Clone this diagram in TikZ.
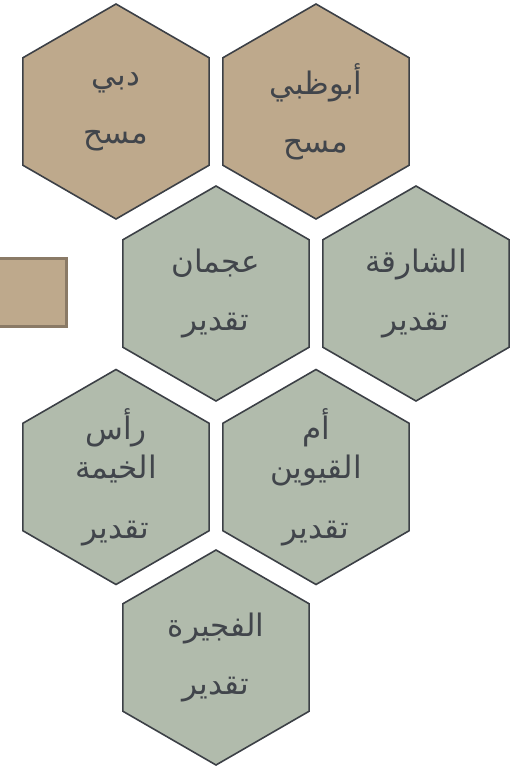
\documentclass[tikz,border=0pt]{standalone}
\usepackage{fontspec}
\usepackage{xcolor}
\usepackage{tikz}
\usetikzlibrary{shapes.geometric, positioning}
\TeXXeTstate=1
\newfontfamily\arabicfont[Script=Arabic]{DejaVu Sans}
\definecolor{hexedge}{HTML}{3C4046}
\definecolor{hextext}{HTML}{41454B}
\definecolor{sandfill}{HTML}{BEA98C}
\definecolor{sandedge}{HTML}{8A7A66}
\definecolor{sagefill}{HTML}{B1BBAC}
\newcommand{\ar}[1]{\beginR #1\endR}

\begin{document}
\begin{tikzpicture}[x=1pt, y=-1pt,
    hexcell/.style={regular polygon, regular polygon sides=6, shape border rotate=30,
        minimum size=215pt, inner sep=-40pt, draw=hexedge, line width=1.6pt,
        text=hextext, align=center,
        font=\arabicfont\fontsize{31}{39}\selectfont},
    survey/.style={hexcell, fill=sandfill},
    estimate/.style={hexcell, fill=sagefill}]
    \useasboundingbox (0,0) rectangle (526,766);

    % Mảnh chữ nhật bên trái
    \node[draw=sandedge, fill=sandfill, line width=2.5pt, minimum width=70pt,
        minimum height=68pt, inner sep=0pt] (swatch) at (31.5,292.5) {};

    % Hàng 1
    \node[survey] (dubai) at (116,111.5) {\ar{دبي}\\[19pt]\ar{مسح}};
    \node[survey] (abudhabi) at (316,111.5) {\ar{أبوظبي}\\[19pt]\ar{مسح}};

    % Hàng 2
    \node[estimate] (ajman) at (216,293.5) {\ar{عجمان}\\[19pt]\ar{تقدير}};
    \node[estimate] (sharjah) at (416,293.5) {\ar{الشارقة}\\[19pt]\ar{تقدير}};

    % Hàng 3
    \node[estimate] (rak) at (116,477) {\ar{رأس}\\\ar{الخيمة}\\[21pt]\ar{تقدير}};
    \node[estimate] (uaq) at (316,477) {\ar{أم}\\\ar{القيوين}\\[21pt]\ar{تقدير}};

    % Hàng 4
    \node[estimate] (fujairah) at (216,657.5) {\ar{الفجيرة}\\[19pt]\ar{تقدير}};
\end{tikzpicture}
\end{document}
